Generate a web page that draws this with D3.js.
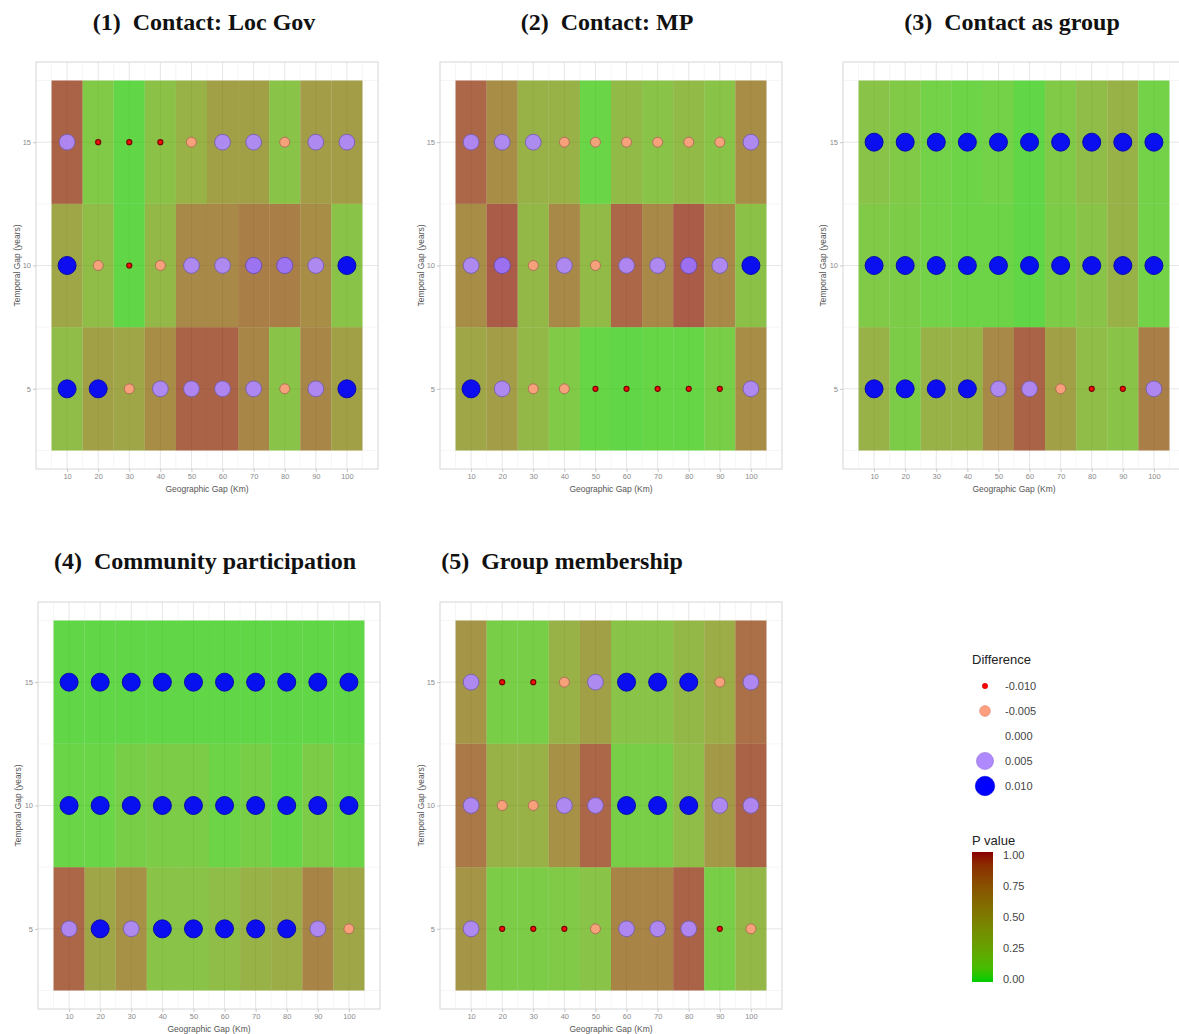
<!DOCTYPE html>
<html>
<head>
<meta charset="utf-8">
<script src="https://cdn.jsdelivr.net/npm/d3@7/dist/d3.min.js"></script>
<style>
  html, body { margin: 0; padding: 0; background: #ffffff; }
  svg { display: block; }
</style>
</head>
<body>
<svg id="chart" width="1179" height="1034"></svg>
<script>
// Geographic gap (km) and temporal gap (years) categories
const geoGaps = [10, 20, 30, 40, 50, 60, 70, 80, 90, 100];
const timeGaps = [5, 10, 15];

const panelTitles = [
  "(1)  Contact: Loc Gov",
  "(2)  Contact: MP",
  "(3)  Contact as group",
  "(4)  Community participation",
  "(5)  Group membership"
];

// P values per outcome: one row per temporal gap (5, 10, 15), one entry per geographic gap
const pLocGov = [
  [0.25, 0.50, 0.45, 0.65, 0.92, 0.92, 0.70, 0.20, 0.70, 0.50],
  [0.45, 0.25, 0.03, 0.30, 0.68, 0.68, 0.75, 0.75, 0.65, 0.20],
  [0.92, 0.15, 0.03, 0.22, 0.35, 0.50, 0.50, 0.20, 0.52, 0.52]
];
const pMP = [
  [0.45, 0.52, 0.30, 0.15, 0.04, 0.03, 0.04, 0.04, 0.10, 0.65],
  [0.65, 0.95, 0.30, 0.68, 0.28, 0.90, 0.68, 0.95, 0.68, 0.22],
  [0.90, 0.65, 0.35, 0.35, 0.05, 0.28, 0.20, 0.28, 0.20, 0.65]
];
const pGroup = [
  [0.35, 0.12, 0.35, 0.35, 0.68, 0.92, 0.50, 0.25, 0.20, 0.75],
  [0.15, 0.12, 0.08, 0.06, 0.06, 0.03, 0.12, 0.20, 0.35, 0.08],
  [0.20, 0.15, 0.08, 0.06, 0.08, 0.03, 0.15, 0.25, 0.35, 0.08]
];
const pCommunity = [
  [0.90, 0.45, 0.62, 0.20, 0.20, 0.25, 0.35, 0.40, 0.72, 0.45],
  [0.05, 0.05, 0.10, 0.12, 0.12, 0.06, 0.10, 0.04, 0.12, 0.06],
  [0.03, 0.03, 0.03, 0.03, 0.03, 0.03, 0.03, 0.03, 0.03, 0.03]
];
const pMembership = [
  [0.58, 0.12, 0.12, 0.15, 0.20, 0.72, 0.72, 0.92, 0.10, 0.30],
  [0.80, 0.35, 0.35, 0.62, 0.90, 0.10, 0.10, 0.25, 0.55, 0.92],
  [0.58, 0.10, 0.10, 0.35, 0.50, 0.20, 0.20, 0.30, 0.40, 0.85]
];

// Estimated differences, same layout as the P value tables
const dLocGov = [
  [0.010, 0.010, -0.005, 0.005, 0.005, 0.005, 0.005, -0.005, 0.005, 0.010],
  [0.010, -0.005, -0.010, -0.005, 0.005, 0.005, 0.006, 0.006, 0.005, 0.010],
  [0.005, -0.010, -0.010, -0.010, -0.005, 0.005, 0.005, -0.005, 0.005, 0.005]
];
const dMP = [
  [0.010, 0.005, -0.005, -0.005, -0.010, -0.010, -0.010, -0.010, -0.010, 0.005],
  [0.005, 0.006, -0.005, 0.005, -0.005, 0.005, 0.005, 0.006, 0.005, 0.010],
  [0.005, 0.005, 0.005, -0.005, -0.005, -0.005, -0.005, -0.005, -0.005, 0.005]
];
const dGroup = [
  [0.010, 0.010, 0.010, 0.010, 0.005, 0.005, -0.005, -0.010, -0.010, 0.005],
  [0.010, 0.010, 0.010, 0.010, 0.010, 0.010, 0.010, 0.010, 0.010, 0.010],
  [0.010, 0.010, 0.010, 0.010, 0.010, 0.010, 0.010, 0.010, 0.010, 0.010]
];
const dCommunity = [
  [0.005, 0.010, 0.005, 0.010, 0.010, 0.010, 0.010, 0.010, 0.005, -0.005],
  [0.010, 0.010, 0.010, 0.010, 0.010, 0.010, 0.010, 0.010, 0.010, 0.010],
  [0.010, 0.010, 0.010, 0.010, 0.010, 0.010, 0.010, 0.010, 0.010, 0.010]
];
const dMembership = [
  [0.005, -0.010, -0.010, -0.010, -0.005, 0.005, 0.005, 0.005, -0.010, -0.005],
  [0.005, -0.005, -0.005, 0.005, 0.005, 0.010, 0.010, 0.010, 0.005, 0.005],
  [0.005, -0.010, -0.010, -0.005, 0.005, 0.010, 0.010, 0.010, -0.005, 0.005]
];

// Legend entries
const diffLegendValues = [-0.010, -0.005, 0.000, 0.005, 0.010];
const pLegendTicks = [0, 0.25, 0.5, 0.75, 1];

const pTables = [pLocGov, pMP, pGroup, pCommunity, pMembership];
const dTables = [dLocGov, dMP, dGroup, dCommunity, dMembership];

// ---- scales shared by all panels ----
const fillScale = d3.scaleLinear()
  .domain([0, 1])
  .range(["#00cd00", "#8b0000"])
  .interpolate(d3.interpolateLab);

const pointColor = d3.scaleLinear()
  .domain([-0.01, 0, 0.01])
  .range(["#ff0000", "#ffffff", "#0000ff"])
  .interpolate(d3.interpolateLab)
  .clamp(true);

// point area grows linearly with the difference
const areaScale = d3.scaleLinear().domain([-0.01, 0.01]).range([6.25, 81]).clamp(true);
const pointRadius = v => Math.sqrt(areaScale(v));
const pointStroke = v => d3.color(pointColor(v)).darker(v < -0.007 ? 2 : 1.1);

const svg = d3.select("#chart");
const sansFont = "'Liberation Sans', Arial, Helvetica, sans-serif";
const serifFont = "'Liberation Serif', 'Times New Roman', Times, serif";

const panelW = 342, panelH = 407;
const layout = [
  { left: 36,  top: 62,  titleX: 204,  titleY: 30,  yTitleX: 17 },
  { left: 440, top: 62,  titleX: 607,  titleY: 30,  yTitleX: 421 },
  { left: 843, top: 62,  titleX: 1012, titleY: 30,  yTitleX: 823 },
  { left: 38,  top: 602, titleX: 205,  titleY: 569, yTitleX: 18 },
  { left: 440, top: 602, titleX: 562,  titleY: 569, yTitleX: 421 }
];

const defs = svg.append("defs");

pTables.forEach((pTable, i) => {
  const L = layout[i];
  const g = svg.append("g").attr("transform", `translate(${L.left},${L.top})`);

  // continuous position scales with 5% padding around the tiles
  const x = d3.scaleLinear().domain([0, 110]).range([0, panelW]);
  const y = d3.scaleLinear().domain([1.75, 18.25]).range([panelH, 0]);

  defs.append("clipPath").attr("id", "clip" + i)
    .append("rect").attr("width", panelW).attr("height", panelH);

  const body = g.append("g").attr("clip-path", `url(#clip${i})`);

  // panel grid
  const minorX = d3.range(5, 110, 10);
  const minorY = [2.5, 7.5, 12.5, 17.5];
  body.selectAll(".gxm").data(minorX).join("line")
    .attr("x1", d => x(d)).attr("x2", d => x(d))
    .attr("y1", 0).attr("y2", panelH)
    .attr("stroke", "#f0f0f0").attr("stroke-width", 0.6);
  body.selectAll(".gym").data(minorY).join("line")
    .attr("y1", d => y(d)).attr("y2", d => y(d))
    .attr("x1", 0).attr("x2", panelW)
    .attr("stroke", "#f0f0f0").attr("stroke-width", 0.6);
  body.selectAll(".gx").data(geoGaps).join("line")
    .attr("x1", d => x(d)).attr("x2", d => x(d))
    .attr("y1", 0).attr("y2", panelH)
    .attr("stroke", "#e6e6e6").attr("stroke-width", 1);
  body.selectAll(".gy").data(timeGaps).join("line")
    .attr("y1", d => y(d)).attr("y2", d => y(d))
    .attr("x1", 0).attr("x2", panelW)
    .attr("stroke", "#e6e6e6").attr("stroke-width", 1);

  // tiles: one per (geographic gap, temporal gap), filled by P value
  const cells = [];
  timeGaps.forEach((t, r) => geoGaps.forEach((gg, c) => {
    cells.push({ geo: gg, time: t, p: pTable[r][c], d: dTables[i][r][c] });
  }));

  body.selectAll(".tile").data(cells).join("rect")
    .attr("x", d => x(d.geo - 5))
    .attr("y", d => y(d.time + 2.5))
    .attr("width", d => x(d.geo + 5) - x(d.geo - 5))
    .attr("height", d => y(d.time - 2.5) - y(d.time + 2.5))
    .attr("fill", d => fillScale(d.p))
    .attr("fill-opacity", 0.72);

  // points: colour and size by difference
  body.selectAll(".pt").data(cells).join("circle")
    .attr("cx", d => x(d.geo))
    .attr("cy", d => y(d.time))
    .attr("r", d => pointRadius(d.d))
    .attr("fill", d => pointColor(d.d))
    .attr("fill-opacity", 0.92)
    .attr("stroke", d => pointStroke(d.d))
    .attr("stroke-width", d => d.d < -0.007 ? 1.2 : 0.9);

  // panel border
  g.append("rect").attr("width", panelW).attr("height", panelH)
    .attr("fill", "none").attr("stroke", "#d6d6d6").attr("stroke-width", 1);

  // axes
  const xAxis = g.append("g").attr("transform", `translate(0,${panelH})`)
    .call(d3.axisBottom(x).tickValues(geoGaps).tickSize(3).tickPadding(2));
  const yAxis = g.append("g")
    .call(d3.axisLeft(y).tickValues(timeGaps).tickSize(3).tickPadding(2));
  [xAxis, yAxis].forEach(a => {
    a.select(".domain").remove();
    a.selectAll(".tick line").attr("stroke", "#bbbbbb").attr("stroke-width", 0.8);
    a.selectAll(".tick text").attr("fill", "#8a8a8a")
      .style("font-family", sansFont).style("font-size", "7.5px");
  });

  g.append("text")
    .attr("x", panelW / 2).attr("y", panelH + 23)
    .attr("text-anchor", "middle")
    .style("font-family", sansFont).style("font-size", "8.5px")
    .attr("fill", "#555")
    .text("Geographic Gap (Km)");

  svg.append("text")
    .attr("transform", `translate(${L.yTitleX},${L.top + panelH / 2}) rotate(-90)`)
    .attr("text-anchor", "middle")
    .attr("dy", "0.35em")
    .style("font-family", sansFont).style("font-size", "8.5px")
    .attr("fill", "#555")
    .text("Temporal Gap (years)");

  svg.append("text")
    .attr("x", L.titleX).attr("y", L.titleY)
    .attr("text-anchor", "middle")
    .style("font-family", serifFont).style("font-size", "24px")
    .style("font-weight", "bold")
    .style("white-space", "pre")
    .attr("fill", "#111")
    .text(panelTitles[i]);
});

// ---- legend: Difference ----
const legD = svg.append("g").attr("transform", "translate(972,0)");
legD.append("text").attr("x", 0).attr("y", 664)
  .style("font-family", sansFont).style("font-size", "13px").attr("fill", "#222")
  .text("Difference");
const legY = d3.scalePoint().domain(diffLegendValues).range([686, 786]);
legD.selectAll(".lp").data(diffLegendValues).join("circle")
  .attr("cx", 13).attr("cy", d => legY(d))
  .attr("r", d => pointRadius(d) * 1.08)
  .attr("fill", d => pointColor(d))
  .attr("stroke", d => d === 0 ? "none" : d3.color(pointColor(d)).darker(0.5))
  .attr("stroke-width", 0.6);
legD.selectAll(".lt").data(diffLegendValues).join("text")
  .attr("x", 33).attr("y", d => legY(d)).attr("dy", "0.35em")
  .style("font-family", sansFont).style("font-size", "11px").attr("fill", "#444")
  .text(d => d3.format(".3f")(d).replace("−", "-"));

// ---- legend: P value colour bar ----
const legP = svg.append("g").attr("transform", "translate(972,0)");
legP.append("text").attr("x", 0).attr("y", 845)
  .style("font-family", sansFont).style("font-size", "13px").attr("fill", "#222")
  .text("P value");
const barY = d3.scaleLinear().domain([0, 1]).range([979, 855]);
const grad = defs.append("linearGradient").attr("id", "pgrad")
  .attr("x1", 0).attr("x2", 0).attr("y1", 1).attr("y2", 0);
d3.range(0, 1.0001, 0.1).forEach(t => {
  grad.append("stop").attr("offset", t).attr("stop-color", fillScale(t));
});
legP.append("rect")
  .attr("x", 0).attr("width", 21)
  .attr("y", barY(1) - 3).attr("height", barY(0) - barY(1) + 6)
  .attr("fill", "url(#pgrad)");
legP.selectAll(".bt").data(pLegendTicks).join("text")
  .attr("x", 31).attr("y", d => barY(d)).attr("dy", "0.35em")
  .style("font-family", sansFont).style("font-size", "11px").attr("fill", "#444")
  .text(d => d3.format(".2f")(d));
</script>
</body>
</html>
